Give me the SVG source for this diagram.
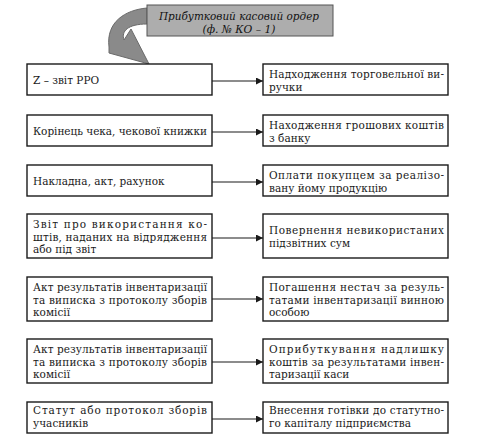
<svg xmlns="http://www.w3.org/2000/svg" width="495" height="439" viewBox="0 0 495 439">
<defs>
<style>
.box{fill:#fff;stroke:#1a1a1a;stroke-width:1.4}
.t{font-family:"DejaVu Serif","Liberation Serif",serif;font-size:10.5px;fill:#1a1a1a}
.h{font-family:"DejaVu Serif","Liberation Serif",serif;font-size:11px;font-style:italic;fill:#111;text-anchor:middle}
.c{stroke:#1a1a1a;stroke-width:1.1;fill:none;marker-end:url(#ah)}
</style>
<marker id="ah" viewBox="0 0 10 10" refX="10" refY="5" markerWidth="9" markerHeight="7" markerUnits="userSpaceOnUse" orient="auto">
<path d="M0,0 L10,5 L0,10 Z" fill="#1a1a1a"/>
</marker>
</defs>
<rect width="495" height="439" fill="#fff"/>

<g id="header">
<path d="M147,8 C125,10 106,22 109,47 L109,53 L149,64 L131,29 L124,40 C121,31 128,24 147,24 Z" fill="#8a8a8a" stroke="#6a6a6a" stroke-width="1"/>
<rect x="147" y="5" width="186" height="31" fill="#adadad" stroke="#555" stroke-width="1"/>
<text class="h" x="239" y="20" textLength="160" lengthAdjust="spacingAndGlyphs">Прибутковий касовий ордер</text>
<text class="h" x="239" y="33" textLength="73" lengthAdjust="spacingAndGlyphs">(ф. № КО – 1)</text>
</g>

<g id="connectors">
<line class="c" x1="212" y1="81" x2="263" y2="81"/>
<line class="c" x1="212" y1="132" x2="263" y2="132"/>
<line class="c" x1="212" y1="182" x2="263" y2="182"/>
<line class="c" x1="212" y1="238" x2="263" y2="238"/>
<line class="c" x1="212" y1="299" x2="263" y2="299"/>
<line class="c" x1="212" y1="362" x2="263" y2="362"/>
<line class="c" x1="212" y1="419" x2="263" y2="419"/>
</g>

<g id="l1"><rect class="box" x="27" y="64" width="185" height="31"/>
<text class="t" x="33" y="84">Z – звіт РРО</text></g>
<g id="r1"><rect class="box" x="263" y="64" width="185" height="31"/>
<text class="t" x="269" y="78" textLength="175" lengthAdjust="spacing">Надходження торговельної ви-</text>
<text class="t" x="269" y="91">ручки</text></g>

<g id="l2"><rect class="box" x="27" y="115" width="185" height="31"/>
<text class="t" x="33" y="135" textLength="174" lengthAdjust="spacing">Корінець чека, чекової книжки</text></g>
<g id="r2"><rect class="box" x="263" y="115" width="185" height="31"/>
<text class="t" x="269" y="129" textLength="175" lengthAdjust="spacing">Находження грошових коштів</text>
<text class="t" x="269" y="142">з банку</text></g>

<g id="l3"><rect class="box" x="27" y="165" width="185" height="31"/>
<text class="t" x="33" y="185">Накладна, акт, рахунок</text></g>
<g id="r3"><rect class="box" x="263" y="165" width="185" height="31"/>
<text class="t" x="269" y="179" textLength="175" lengthAdjust="spacing">Оплати покупцем за реалізо-</text>
<text class="t" x="269" y="192">вану йому продукцію</text></g>

<g id="l4"><rect class="box" x="27" y="214" width="185" height="44"/>
<text class="t" x="33" y="228" textLength="174" lengthAdjust="spacing">Звіт про використання ко-</text>
<text class="t" x="33" y="241" textLength="174" lengthAdjust="spacing">штів, наданих на відрядження</text>
<text class="t" x="33" y="253">або під звіт</text></g>
<g id="r4"><rect class="box" x="263" y="214" width="185" height="44"/>
<text class="t" x="269" y="234" textLength="175" lengthAdjust="spacing">Повернення невикористаних</text>
<text class="t" x="269" y="247">підзвітних сум</text></g>

<g id="l5"><rect class="box" x="27" y="277" width="185" height="44"/>
<text class="t" x="33" y="291" textLength="174" lengthAdjust="spacing">Акт результатів інвентаризації</text>
<text class="t" x="33" y="304" textLength="174" lengthAdjust="spacing">та виписка з протоколу зборів</text>
<text class="t" x="33" y="316">комісії</text></g>
<g id="r5"><rect class="box" x="263" y="277" width="185" height="44"/>
<text class="t" x="269" y="291" textLength="175" lengthAdjust="spacing">Погашення нестач за резуль-</text>
<text class="t" x="269" y="304" textLength="175" lengthAdjust="spacing">татами інвентаризації винною</text>
<text class="t" x="269" y="316">особою</text></g>

<g id="l6"><rect class="box" x="27" y="339" width="185" height="44"/>
<text class="t" x="33" y="353" textLength="174" lengthAdjust="spacing">Акт результатів інвентаризації</text>
<text class="t" x="33" y="366" textLength="174" lengthAdjust="spacing">та виписка з протоколу зборів</text>
<text class="t" x="33" y="378">комісії</text></g>
<g id="r6"><rect class="box" x="263" y="339" width="185" height="44"/>
<text class="t" x="269" y="353" textLength="175" lengthAdjust="spacing">Оприбуткування надлишку</text>
<text class="t" x="269" y="366" textLength="175" lengthAdjust="spacing">коштів за результатами інвен-</text>
<text class="t" x="269" y="378">таризації каси</text></g>

<g id="l7"><rect class="box" x="27" y="402" width="185" height="31"/>
<text class="t" x="33" y="414" textLength="174" lengthAdjust="spacing">Статут або протокол зборів</text>
<text class="t" x="33" y="427">учасників</text></g>
<g id="r7"><rect class="box" x="263" y="402" width="185" height="31"/>
<text class="t" x="269" y="414" textLength="175" lengthAdjust="spacing">Внесення готівки до статутно-</text>
<text class="t" x="269" y="427">го капіталу підприємства</text></g>
</svg>
